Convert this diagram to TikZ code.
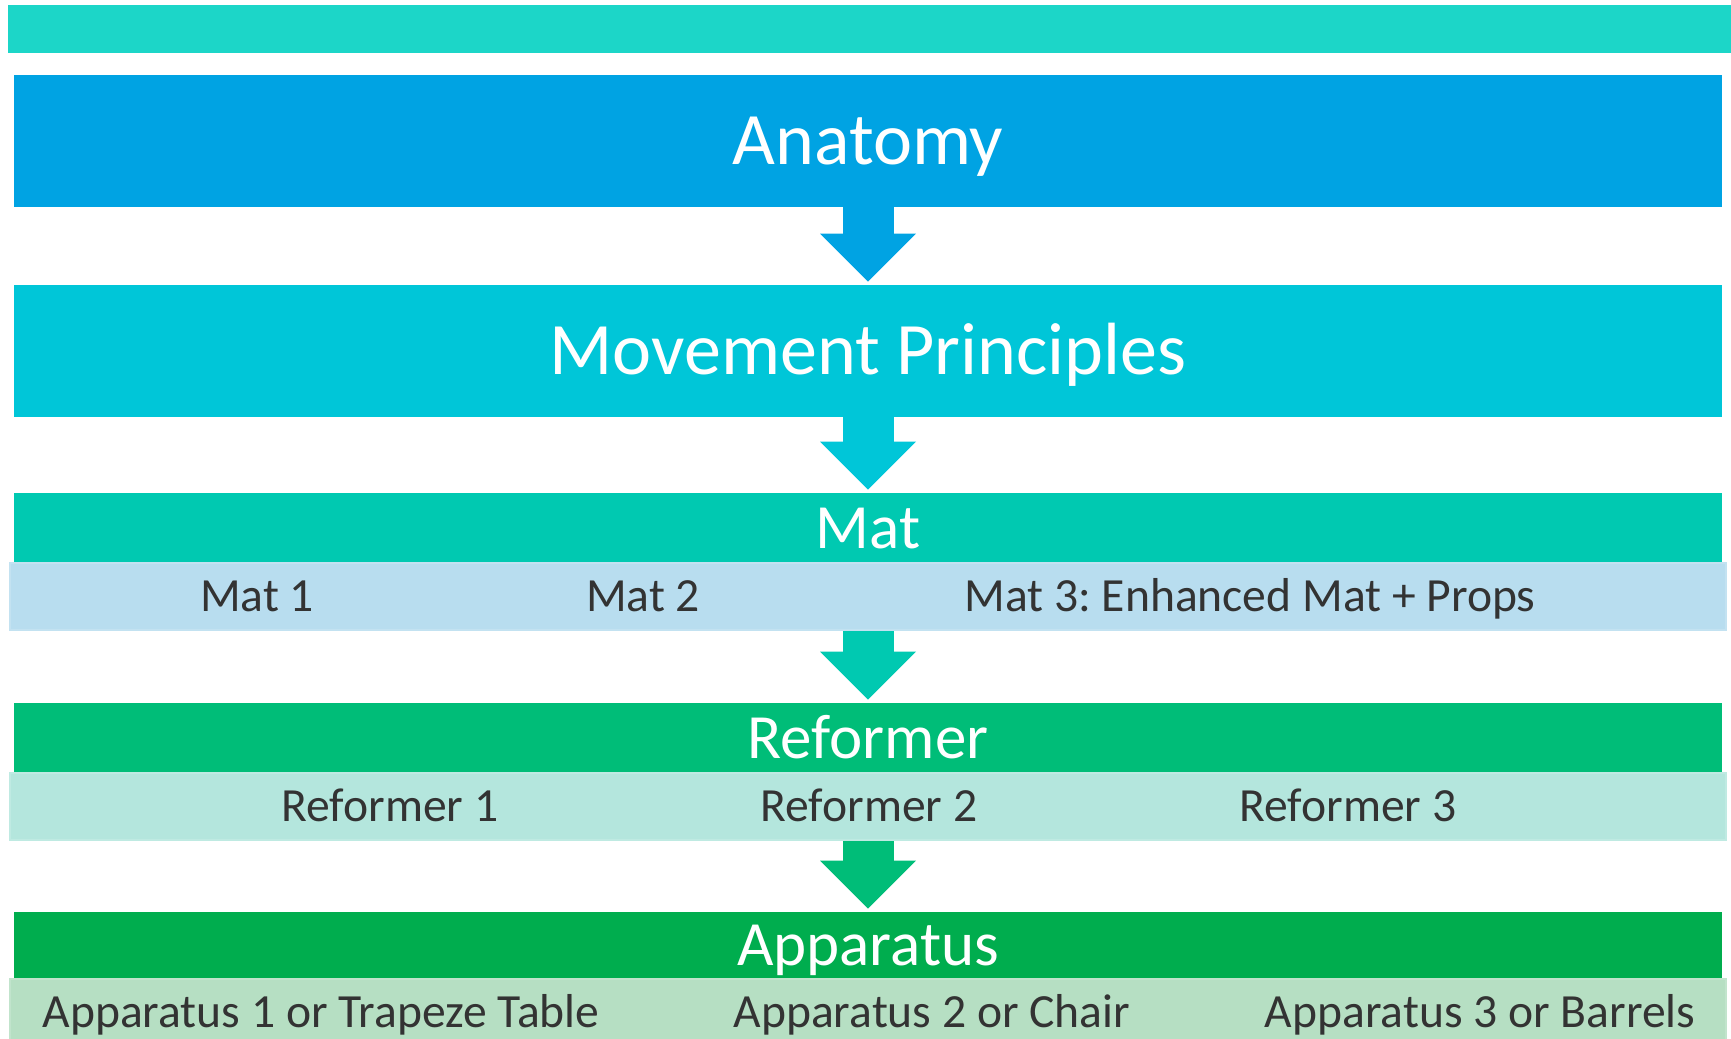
\documentclass[tikz,border=0pt]{standalone}
\usepackage{fontspec}
\setmainfont{Carlito}
\usepackage{tikz}
\usetikzlibrary{arrows.meta,positioning}
\definecolor{topc}{HTML}{1CD6C8}
\definecolor{anatc}{HTML}{00A3E3}
\definecolor{movec}{HTML}{00C6D8}
\definecolor{matc}{HTML}{00C9B1}
\definecolor{matsubc}{HTML}{B8DDEF}
\definecolor{refc}{HTML}{00BD78}
\definecolor{refsubc}{HTML}{B4E6DD}
\definecolor{appc}{HTML}{00AD4E}
\definecolor{appsubc}{HTML}{B6DFC3}
\definecolor{itemgray}{HTML}{333333}

\begin{document}
\frenchspacing
\begin{tikzpicture}[x=0.5pt, y=0.5pt,
    bar/.style={rectangle, inner sep=0pt, minimum width=854pt, text=white, text depth=0pt},
    bigbar/.style={bar, minimum height=66pt, text height=23.8pt, font=\fontsize{37}{40}\selectfont},
    headbar/.style={bar, minimum height=35pt, text height=20.3pt, font=\fontsize{31.5}{34}\selectfont},
    subbar/.style={rectangle, inner sep=0pt, minimum width=858pt, minimum height=33.5pt, line width=1pt},
    item/.style={inner sep=0pt, text=itemgray, font=\fontsize{23.8}{26}\selectfont, text height=15.3pt, text depth=0pt},
    flow/.style={line width=25.5pt, -{Triangle[width=48pt,length=24pt,line width=0pt]}, shorten >=1.5pt}
]
    \useasboundingbox (0,0) rectangle (1731,-1039);

    \node[rectangle, fill=topc, inner sep=0pt, minimum width=861.5pt, minimum height=24pt] (topbar) at (869.5,-29) {};

    \node[bigbar, fill=anatc] (anatomy) at (868,-141) {Anatomy};
    \node[bigbar, fill=movec] (movement) at (868,-351) {Movement Principles};

    % mat row
    \node[headbar, fill=matc] (mat) at (868,-528) {Mat};
    \node[subbar, fill=matsubc, draw=matsubc!85!white] (matsub) at (868,-596.5) {};
    \node[item] (mat1) at (257,-596.5) {Mat 1};
    \node[item] (mat2) at (643,-596.5) {Mat 2};
    \node[item] (mat3) at (1250,-596.5) {Mat 3: Enhanced Mat + Props};

    % reformer row
    \node[headbar, fill=refc] (reformer) at (868,-738) {Reformer};
    \node[subbar, fill=refsubc, draw=refsubc!85!white] (refsub) at (868,-806.5) {};
    \node[item] (ref1) at (390,-806.5) {Reformer 1};
    \node[item] (ref2) at (869,-806.5) {Reformer 2};
    \node[item] (ref3) at (1348,-806.5) {Reformer 3};

    % apparatus row
    \node[headbar, fill=appc, minimum height=33.5pt] (apparatus) at (868,-945.5) {Apparatus};
    \node[subbar, fill=appsubc, draw=appsubc!85!white] (appsub) at (868,-1012.5) {};
    \node[item] (app1) at (321,-1012.5) {Apparatus 1 or Trapeze Table};
    \node[item] (app2) at (932,-1012.5) {Apparatus 2 or Chair};
    \node[item] (app3) at (1480,-1012.5) {Apparatus 3 or Barrels};

    \draw[flow, anatc] (anatomy) -- (movement);
    \draw[flow, movec] (movement) -- (mat);
    \draw[flow, matc] (matsub) -- (reformer);
    \draw[flow, refc] (refsub) -- (apparatus);
\end{tikzpicture}
\end{document}
